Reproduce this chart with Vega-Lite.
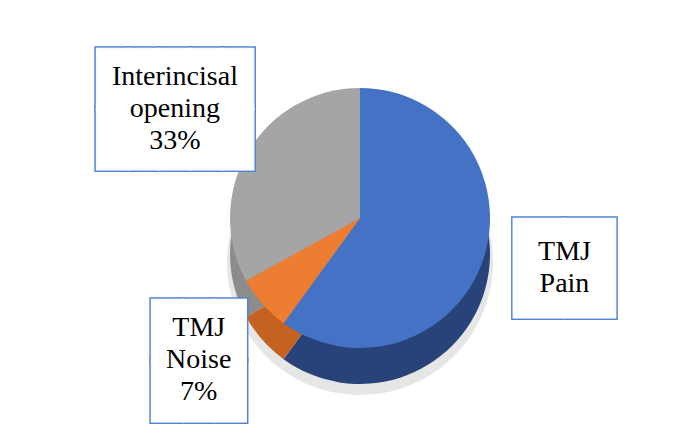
{
  "$schema": "https://vega.github.io/schema/vega-lite/v6.json",
  "width": 632,
  "height": 436,
  "autosize": {"type": "none"},
  "padding": {"left": 44, "right": 0, "top": 0, "bottom": 2},
  "background": "white",
  "config": {"view": {"stroke": null}},
  "data": {
    "values": [
      {"category": "TMJ Pain", "value": 60, "label": "TMJ\nPain"},
      {"category": "TMJ Noise", "value": 7, "label": "TMJ\nNoise\n7%"},
      {"category": "Interincisal opening", "value": 33, "label": "Interincisal\nopening\n33%"}
    ]
  },
  "encoding": {
    "theta": {"field": "value", "type": "quantitative", "stack": true},
    "order": {"field": "category", "sort": "descending"}
  },
  "layer": [
    {
      "mark": {"type": "arc", "radius": 133, "yOffset": 44, "fill": "#e6e6e6", "stroke": null}
    },
    {
      "mark": {"type": "arc", "radius": 130, "yOffset": 36, "stroke": null},
      "encoding": {
        "fill": {
          "field": "category", "type": "nominal",
          "scale": {"domain": ["TMJ Pain", "TMJ Noise", "Interincisal opening"], "range": ["#27437A", "#C5621F", "#8C8C8C"]},
          "legend": null
        }
      }
    },
    {
      "mark": {"type": "arc", "radius": 130, "stroke": null},
      "encoding": {
        "color": {
          "field": "category", "type": "nominal",
          "scale": {"domain": ["TMJ Pain", "TMJ Noise", "Interincisal opening"], "range": ["#4472C4", "#ED7D31", "#A5A5A5"]},
          "legend": null
        }
      }
    },
    {
      "mark": {"type": "text", "radius": 215, "dy": -28, "font": "DejaVu Sans Mono", "fontSize": 52, "lineBreak": "\n", "lineHeight": 60.5, "align": "center", "baseline": "middle", "fill": "#5282D2", "stroke": "#5282D2", "strokeWidth": 4},
      "encoding": {
        "text": {
          "condition": [
            {"test": "datum.category === 'Interincisal opening'", "value": "█████\n█████"},
            {"test": "datum.category === 'TMJ Noise'", "value": "███\n███"}
          ],
          "value": ""
        }
      }
    },
    {
      "mark": {"type": "text", "radius": 215, "dy": -28, "font": "DejaVu Sans Mono", "fontSize": 52, "lineBreak": "\n", "lineHeight": 60.5, "align": "center", "baseline": "middle", "fill": "#ffffff", "stroke": "#ffffff", "strokeWidth": 1},
      "encoding": {
        "text": {
          "condition": [
            {"test": "datum.category === 'Interincisal opening'", "value": "█████\n█████"},
            {"test": "datum.category === 'TMJ Noise'", "value": "███\n███"}
          ],
          "value": ""
        }
      }
    },
    {
      "mark": {"type": "text", "radius": 215, "dy": -12, "font": "DejaVu Sans Mono", "fontSize": 84, "align": "center", "baseline": "middle", "fill": "#5282D2", "stroke": "#5282D2", "strokeWidth": 4},
      "encoding": {
        "text": {
          "condition": {"test": "datum.category === 'TMJ Pain'", "value": "██"},
          "value": ""
        }
      }
    },
    {
      "mark": {"type": "text", "radius": 215, "dy": -12, "font": "DejaVu Sans Mono", "fontSize": 84, "align": "center", "baseline": "middle", "fill": "#ffffff", "stroke": "#ffffff", "strokeWidth": 1},
      "encoding": {
        "text": {
          "condition": {"test": "datum.category === 'TMJ Pain'", "value": "██"},
          "value": ""
        }
      }
    },
    {
      "mark": {"type": "text", "radius": 215, "dy": -32, "font": "Liberation Serif", "fontSize": 28, "lineBreak": "\n", "lineHeight": 32, "align": "center", "baseline": "middle", "fill": "#000000"},
      "encoding": {
        "text": {"field": "label", "type": "nominal"}
      }
    }
  ]
}
